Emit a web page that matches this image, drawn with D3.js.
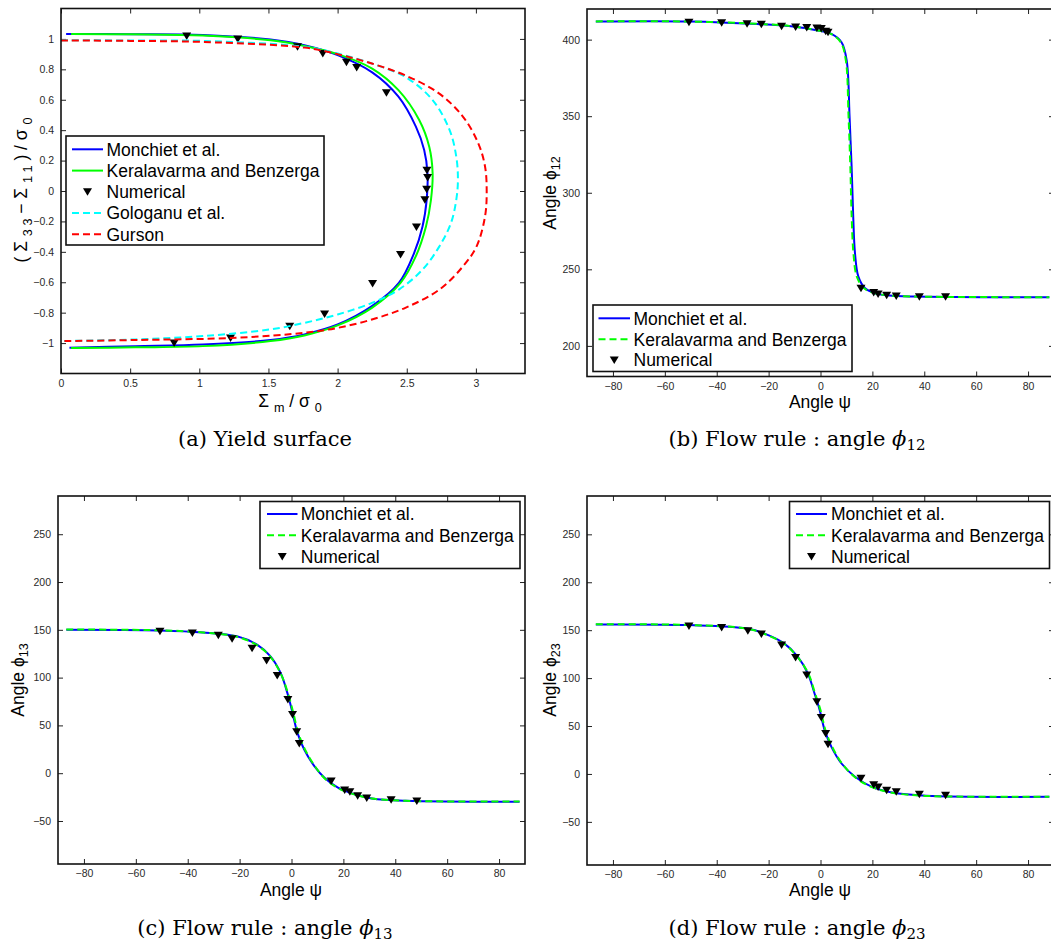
<!DOCTYPE html>
<html><head><meta charset="utf-8">
<script src="https://cdn.jsdelivr.net/npm/d3@7"></script>
<style>
html,body{margin:0;padding:0;background:#fff;}
svg text{font-family:"Liberation Sans",Arial,Helvetica,sans-serif;}
</style></head>
<body>
<svg id="c" width="1051" height="942"></svg>
<script>
// ---------------- DATA ----------------
// Panel (a): yield surface, [Σm/σ0, (Σ33−Σ11)/σ0]
const yieldMonchiet = [[0.037,1.033],[0.5,1.031],[1.026,1.026],[1.515,0.996],[1.76,0.958],[2.0,0.893],[2.25,0.78],[2.44,0.62],[2.566,0.423],[2.626,0.27],[2.65,0.117],[2.644,-0.058],[2.614,-0.233],[2.553,-0.408],[2.443,-0.604],[2.248,-0.757],[2.0,-0.878],[1.76,-0.943],[1.515,-0.98],[1.026,-1.009],[0.537,-1.02],[0.061,-1.03]];
const yieldKeralavarma = [[0.073,1.033],[0.5,1.03],[1.026,1.022],[1.515,0.991],[1.76,0.954],[2.0,0.9],[2.25,0.805],[2.44,0.663],[2.59,0.467],[2.663,0.29],[2.687,0.117],[2.675,-0.058],[2.639,-0.233],[2.565,-0.43],[2.455,-0.604],[2.248,-0.768],[2.0,-0.884],[1.76,-0.95],[1.515,-0.987],[1.026,-1.02],[0.537,-1.028],[0.073,-1.033]];
const yieldGologanu = [[0.0,0.991],[0.5,0.99],[1.026,0.987],[1.76,0.948],[2.0,0.904],[2.248,0.838],[2.49,0.75],[2.687,0.598],[2.81,0.4],[2.858,0.226],[2.87,0.073],[2.858,-0.058],[2.82,-0.21],[2.736,-0.364],[2.614,-0.517],[2.443,-0.648],[2.248,-0.736],[2.0,-0.812],[1.76,-0.867],[1.515,-0.91],[1.026,-0.954],[0.537,-0.976],[0.0,-0.987]];
const yieldGurson = [[0.0,0.99],[0.5,0.987],[1.026,0.98],[1.76,0.943],[2.0,0.9],[2.248,0.838],[2.49,0.76],[2.736,0.64],[2.907,0.488],[3.017,0.314],[3.066,0.161],[3.078,-0.003],[3.066,-0.167],[3.005,-0.364],[2.907,-0.495],[2.736,-0.648],[2.49,-0.768],[2.248,-0.845],[2.0,-0.9],[1.76,-0.932],[1.27,-0.965],[0.537,-0.98],[0.0,-0.987]];
const yieldNumerical = [[0.909,1.02],[1.278,1.0],[1.71,0.948],[1.893,0.904],[2.064,0.847],[2.138,0.812],[2.353,0.646],[2.646,0.137],[2.651,0.088],[2.644,0.012],[2.631,-0.058],[2.57,-0.237],[2.455,-0.418],[2.253,-0.609],[1.906,-0.808],[1.654,-0.889],[1.226,-0.967],[0.818,-1.0]];

// Panel (b): angle φ12 vs ψ
const phi12Monchiet = [[-86.6,411.9],[-50.4,411.9],[-24.4,410.2],[-11.4,408.7],[-1.0,405.9],[4.2,403.7],[8.1,398.3],[10.1,386.3],[11.2,350],[12.0,316.8],[12.6,285],[13.3,260.4],[14.6,245.2],[17.2,237.6],[21.1,234.3],[27.6,232.8],[40.6,232.1],[88.2,231.7]];
const phi12Keralavarma = [[-86.6,411.9],[-50.4,411.8],[-24.4,410.3],[-11.4,408.8],[-1.0,406.0],[4.2,403.6],[7.9,398.0],[9.8,386.0],[10.8,350],[11.5,316.8],[12.0,285],[12.7,260.4],[14.0,245.2],[16.8,237.6],[21.0,234.3],[27.6,232.8],[40.6,232.1],[88.2,231.8]];
const phi12Numerical = [[-50.7,411.3],[-38.1,411.1],[-28.3,410.4],[-22.8,410.0],[-15.0,408.7],[-9.6,408.3],[-5.3,408.0],[-1.4,407.6],[0.3,407.2],[2.0,405.4],[2.9,404.8],[15.6,237.6],[20.5,234.8],[22.2,233.9],[25.5,233.0],[29.2,232.6],[38.1,232.1],[48.2,232.1]];

// Panel (c): angle φ13 vs ψ
const phi13Monchiet = [[-86.8,150.1],[-51.0,149.4],[-34.1,147.3],[-21.1,143.2],[-13.3,134.5],[-8.1,122.3],[-4.2,104.9],[-1.6,84.0],[0.4,63.1],[2.3,42.2],[4.9,24.8],[8.8,7.4],[12.7,-4.8],[17.9,-15.2],[24.4,-22.2],[31.0,-26.4],[44.0,-28.8],[87.9,-29.9]];
const phi13Keralavarma = [[-86.8,150.3],[-51.0,149.5],[-34.1,147.2],[-21.1,142.8],[-13.3,134.0],[-8.1,121.8],[-4.2,104.5],[-1.4,84.0],[0.7,63.1],[2.6,42.2],[5.2,24.8],[9.0,7.4],[12.7,-5.2],[17.9,-15.6],[24.4,-22.4],[31.0,-26.5],[44.0,-28.9],[87.9,-29.7]];
const phi13Numerical = [[-50.7,148.4],[-38.2,146.6],[-28.2,144.2],[-22.9,140.7],[-15.2,130.6],[-9.6,117.8],[-5.5,102.1],[-1.4,77.1],[0.4,61.4],[2.0,43.3],[3.0,31.1],[15.3,-8.2],[20.5,-17.6],[22.5,-19.4],[25.5,-23.5],[29.0,-26.0],[38.4,-27.8],[48.3,-29.1]];

// Panel (d): angle φ23 vs ψ
const phi23Monchiet = [[-86.6,156.0],[-50.4,155.3],[-28.3,151.8],[-21.8,146.7],[-14.0,136.2],[-8.8,122.3],[-4.9,104.9],[-2.3,84.0],[-0.3,66.6],[1.6,45.7],[4.2,28.3],[8.1,10.9],[13.3,-3.0],[19.8,-13.5],[27.6,-19.4],[40.6,-22.8],[88.2,-23.9]];
const phi23Keralavarma = [[-86.6,156.2],[-50.4,155.4],[-28.3,151.6],[-21.8,146.3],[-14.0,135.8],[-8.8,121.8],[-4.7,104.9],[-2.1,84.0],[0.0,66.6],[1.9,45.7],[4.5,28.3],[8.3,10.9],[13.3,-3.4],[19.8,-13.8],[27.6,-19.6],[40.6,-22.9],[88.2,-23.8]];
const phi23Numerical = [[-50.7,154.3],[-38.1,152.9],[-28.0,149.4],[-22.8,145.9],[-15.0,134.5],[-9.6,121.6],[-5.3,103.2],[-1.4,75.4],[0.3,59.0],[2.0,42.2],[2.9,31.1],[15.6,-4.4],[20.5,-11.4],[22.2,-13.5],[25.5,-17.0],[29.2,-18.7],[38.1,-21.1],[48.2,-22.2]];

// Tick values
const ticksA_x = [0,0.5,1,1.5,2,2.5,3];
const ticksA_y = [-1,-0.8,-0.6,-0.4,-0.2,0,0.2,0.4,0.6,0.8,1];
const ticksPsi = [-80,-60,-40,-20,0,20,40,60,80];
const ticksB_y = [200,250,300,350,400];
const ticksCD_y = [-50,0,50,100,150,200,250];

// Legend labels
const labelsA = ["Monchiet et al.","Keralavarma and Benzerga","Numerical","Gologanu et al.","Gurson"];
const labelsBCD = ["Monchiet et al.","Keralavarma and Benzerga","Numerical"];

// ---------------- DRAWING ----------------
const svg = d3.select("#c");
const BLUE="#0000ff", GREEN="#00ff00", CYAN="#00ffff", RED="#ff0000";
const fmt = d => (d<0?"\u2212":"") + String(Math.abs(d));

const tri = "M-4.5,-3.5L4.5,-3.5L0,4Z";

function panel(cfg){
  const g = svg.append("g");
  const x = d3.scaleLinear().domain(cfg.xdom).range([cfg.left,cfg.right]);
  const y = d3.scaleLinear().domain(cfg.ydom).range([cfg.bottom,cfg.top]);
  const clipId = "clip"+cfg.id;
  svg.append("clipPath").attr("id",clipId).append("rect")
    .attr("x",cfg.left).attr("y",cfg.top).attr("width",cfg.right-cfg.left).attr("height",cfg.bottom-cfg.top);

  // axes with inward ticks
  const axB = d3.axisBottom(x).tickValues(cfg.xt).tickSize(-5).tickPadding(6).tickFormat(fmt);
  const axT = d3.axisTop(x).tickValues(cfg.xt).tickSize(-5).tickFormat("");
  const axL = d3.axisLeft(y).tickValues(cfg.yt).tickSize(-5).tickPadding(7).tickFormat(fmt);
  const axR = d3.axisRight(y).tickValues(cfg.yt).tickSize(-5).tickFormat("");
  const styleAx = s => { s.select(".domain").remove(); s.selectAll(".tick line").attr("stroke","#222").attr("stroke-width",1);
    s.selectAll(".tick text").attr("fill","#2a2a2a").style("font-size","10.5px"); };
  g.append("g").attr("transform",`translate(0,${cfg.bottom})`).call(axB).call(styleAx);
  g.append("g").attr("transform",`translate(0,${cfg.top})`).call(axT).call(styleAx);
  g.append("g").attr("transform",`translate(${cfg.left},0)`).call(axL).call(styleAx);
  g.append("g").attr("transform",`translate(${cfg.right},0)`).call(axR).call(styleAx);

  const line = d3.line().x(d=>x(d[0])).y(d=>y(d[1])).curve(d3.curveCatmullRom.alpha(0.5));
  const plot = g.append("g").attr("clip-path",`url(#${clipId})`);
  cfg.series.forEach(s=>{
    if(s.type==="line"){
      plot.append("path").attr("d",line(s.data)).attr("fill","none").attr("stroke",s.color)
        .attr("stroke-width",2).attr("stroke-dasharray",s.dash||null);
    } else {
      plot.selectAll(null).data(s.data).enter().append("path").attr("d",tri)
        .attr("transform",d=>`translate(${x(d[0])},${y(d[1])})`).attr("fill","#000");
    }
  });

  // box
  g.append("rect").attr("x",cfg.left).attr("y",cfg.top).attr("width",cfg.right-cfg.left).attr("height",cfg.bottom-cfg.top)
    .attr("fill","none").attr("stroke","#111").attr("stroke-width",1.6);

  // legend
  const L = cfg.legend;
  const lg = g.append("g");
  lg.append("rect").attr("x",L.x0).attr("y",L.y0).attr("width",L.x1-L.x0).attr("height",L.y1-L.y0)
    .attr("fill","#fff").attr("stroke","#111").attr("stroke-width",1.6);
  cfg.series.forEach((s,i)=>{
    const ry = L.rows[i];
    if(s.type==="line"){
      lg.append("line").attr("x1",L.s0).attr("x2",L.s1).attr("y1",ry).attr("y2",ry)
        .attr("stroke",s.color).attr("stroke-width",2).attr("stroke-dasharray",s.dash||null);
    } else {
      lg.append("path").attr("d",tri).attr("transform",`translate(${(L.s0+L.s1)/2},${ry})`).attr("fill","#000");
    }
    lg.append("text").attr("x",L.tx).attr("y",ry+6.3).text(s.label)
      .style("font-size","17.5px").attr("fill","#000");
  });
  return {x,y,g};
}

// Panel (a)
const pa = panel({id:"a",left:61,right:525,top:8.5,bottom:373.5,xdom:[0,3.355],ydom:[-1.2,1.2],xt:ticksA_x,yt:ticksA_y,
  series:[
    {type:"line",data:yieldMonchiet,color:BLUE,label:labelsA[0]},
    {type:"line",data:yieldKeralavarma,color:GREEN,label:labelsA[1]},
    {type:"mark",data:yieldNumerical,label:labelsA[2]},
    {type:"line",data:yieldGologanu,color:CYAN,dash:"7,4",label:labelsA[3]},
    {type:"line",data:yieldGurson,color:RED,dash:"7,4",label:labelsA[4]}],
  legend:{x0:66,x1:324,y0:136,y1:245,rows:[149.3,170.6,191.8,213.1,234.2],s0:72,s1:103,tx:106.5}});

// Panel (b)
const pb = panel({id:"b",left:587,right:1054,top:9,bottom:376.5,xdom:[-90,90],ydom:[180,420],xt:ticksPsi,yt:ticksB_y,
  series:[
    {type:"line",data:phi12Monchiet,color:BLUE,label:labelsBCD[0]},
    {type:"line",data:phi12Keralavarma,color:GREEN,dash:"7,4",label:labelsBCD[1]},
    {type:"mark",data:phi12Numerical,label:labelsBCD[2]}],
  legend:{x0:593,x1:852,y0:305,y1:371.5,rows:[318.3,339.3,360],s0:598.5,s1:630,tx:633.5}});

// Panel (c)
const pc = panel({id:"c",left:58,right:525,top:496,bottom:864,xdom:[-90,90],ydom:[-95,290],xt:ticksPsi,yt:ticksCD_y,
  series:[
    {type:"line",data:phi13Monchiet,color:BLUE,label:labelsBCD[0]},
    {type:"line",data:phi13Keralavarma,color:GREEN,dash:"7,4",label:labelsBCD[1]},
    {type:"mark",data:phi13Numerical,label:labelsBCD[2]}],
  legend:{x0:260,x1:520,y0:501.5,y1:568.5,rows:[514,535.2,556.5],s0:267,s1:297.5,tx:300.8}});

// Panel (d)
const pd = panel({id:"d",left:587,right:1054,top:496,bottom:865,xdom:[-90,90],ydom:[-95,290],xt:ticksPsi,yt:ticksCD_y,
  series:[
    {type:"line",data:phi23Monchiet,color:BLUE,label:labelsBCD[0]},
    {type:"line",data:phi23Keralavarma,color:GREEN,dash:"7,4",label:labelsBCD[1]},
    {type:"mark",data:phi23Numerical,label:labelsBCD[2]}],
  legend:{x0:789.5,x1:1049.5,y0:501.5,y1:568.5,rows:[514,535.2,556.5],s0:796,s1:827,tx:831}});

// ---------- axis labels ----------
function sublabel(parent, x, y, parts, rotate, size){
  const t = parent.append("text").attr("text-anchor","middle").style("font-size",size+"px").attr("fill","#000")
    .attr("transform",`translate(${x},${y})${rotate?" rotate(-90)":""}`);
  parts.forEach(p=>{
    const ts = t.append("tspan").text(p.t);
    if(p.sub){ ts.attr("dy", p.dy||5).style("font-size",(size*0.72)+"px"); }
    else if(p.back){ ts.attr("dy", -p.back); }
  });
  return t;
}
// (a) y label
sublabel(svg, 27, 190, [{t:"( \u03A3 "},{t:"3 3",sub:true,dy:5},{t:" \u2212 \u03A3 ",back:5},{t:"1 1",sub:true,dy:5},{t:" ) / \u03C3 ",back:5},{t:"0",sub:true,dy:5}], true, 17.5);
// (a) x label
sublabel(svg, 290, 407, [{t:"\u03A3 "},{t:"m",sub:true,dy:5},{t:" / \u03C3 ",back:5},{t:"0",sub:true,dy:5}], false, 17.5);
// (b)-(d) labels
sublabel(svg, 556, 193, [{t:"Angle \u03D5"},{t:"12",sub:true,dy:4}], true, 17.5);
sublabel(svg, 24, 680, [{t:"Angle \u03D5"},{t:"13",sub:true,dy:4}], true, 17.5);
sublabel(svg, 556, 680, [{t:"Angle \u03D5"},{t:"23",sub:true,dy:4}], true, 17.5);
svg.append("text").attr("x",820).attr("y",408).attr("text-anchor","middle").style("font-size","17.5px").text("Angle \u03C8");
svg.append("text").attr("x",291).attr("y",896).attr("text-anchor","middle").style("font-size","17.5px").text("Angle \u03C8");
svg.append("text").attr("x",820).attr("y",896).attr("text-anchor","middle").style("font-size","17.5px").text("Angle \u03C8");

// ---------- captions ----------
function caption(x,y,main,sub){
  const t = svg.append("text").attr("x",x).attr("y",y).attr("text-anchor","middle")
    .style("font-family","'DejaVu Serif','Liberation Serif',serif").style("font-size","21px").attr("fill","#000");
  t.append("tspan").text(main);
  if(sub){
    t.append("tspan").text("\u03D5").style("font-style","italic");
    t.append("tspan").text(sub).attr("dy",4).style("font-size","15px");
  }
}
caption(265,446,"(a) Yield surface");
caption(797,446,"(b) Flow rule : angle ","12");
caption(265,935,"(c) Flow rule : angle ","13");
caption(797,935,"(d) Flow rule : angle ","23");
</script>
</body></html>
